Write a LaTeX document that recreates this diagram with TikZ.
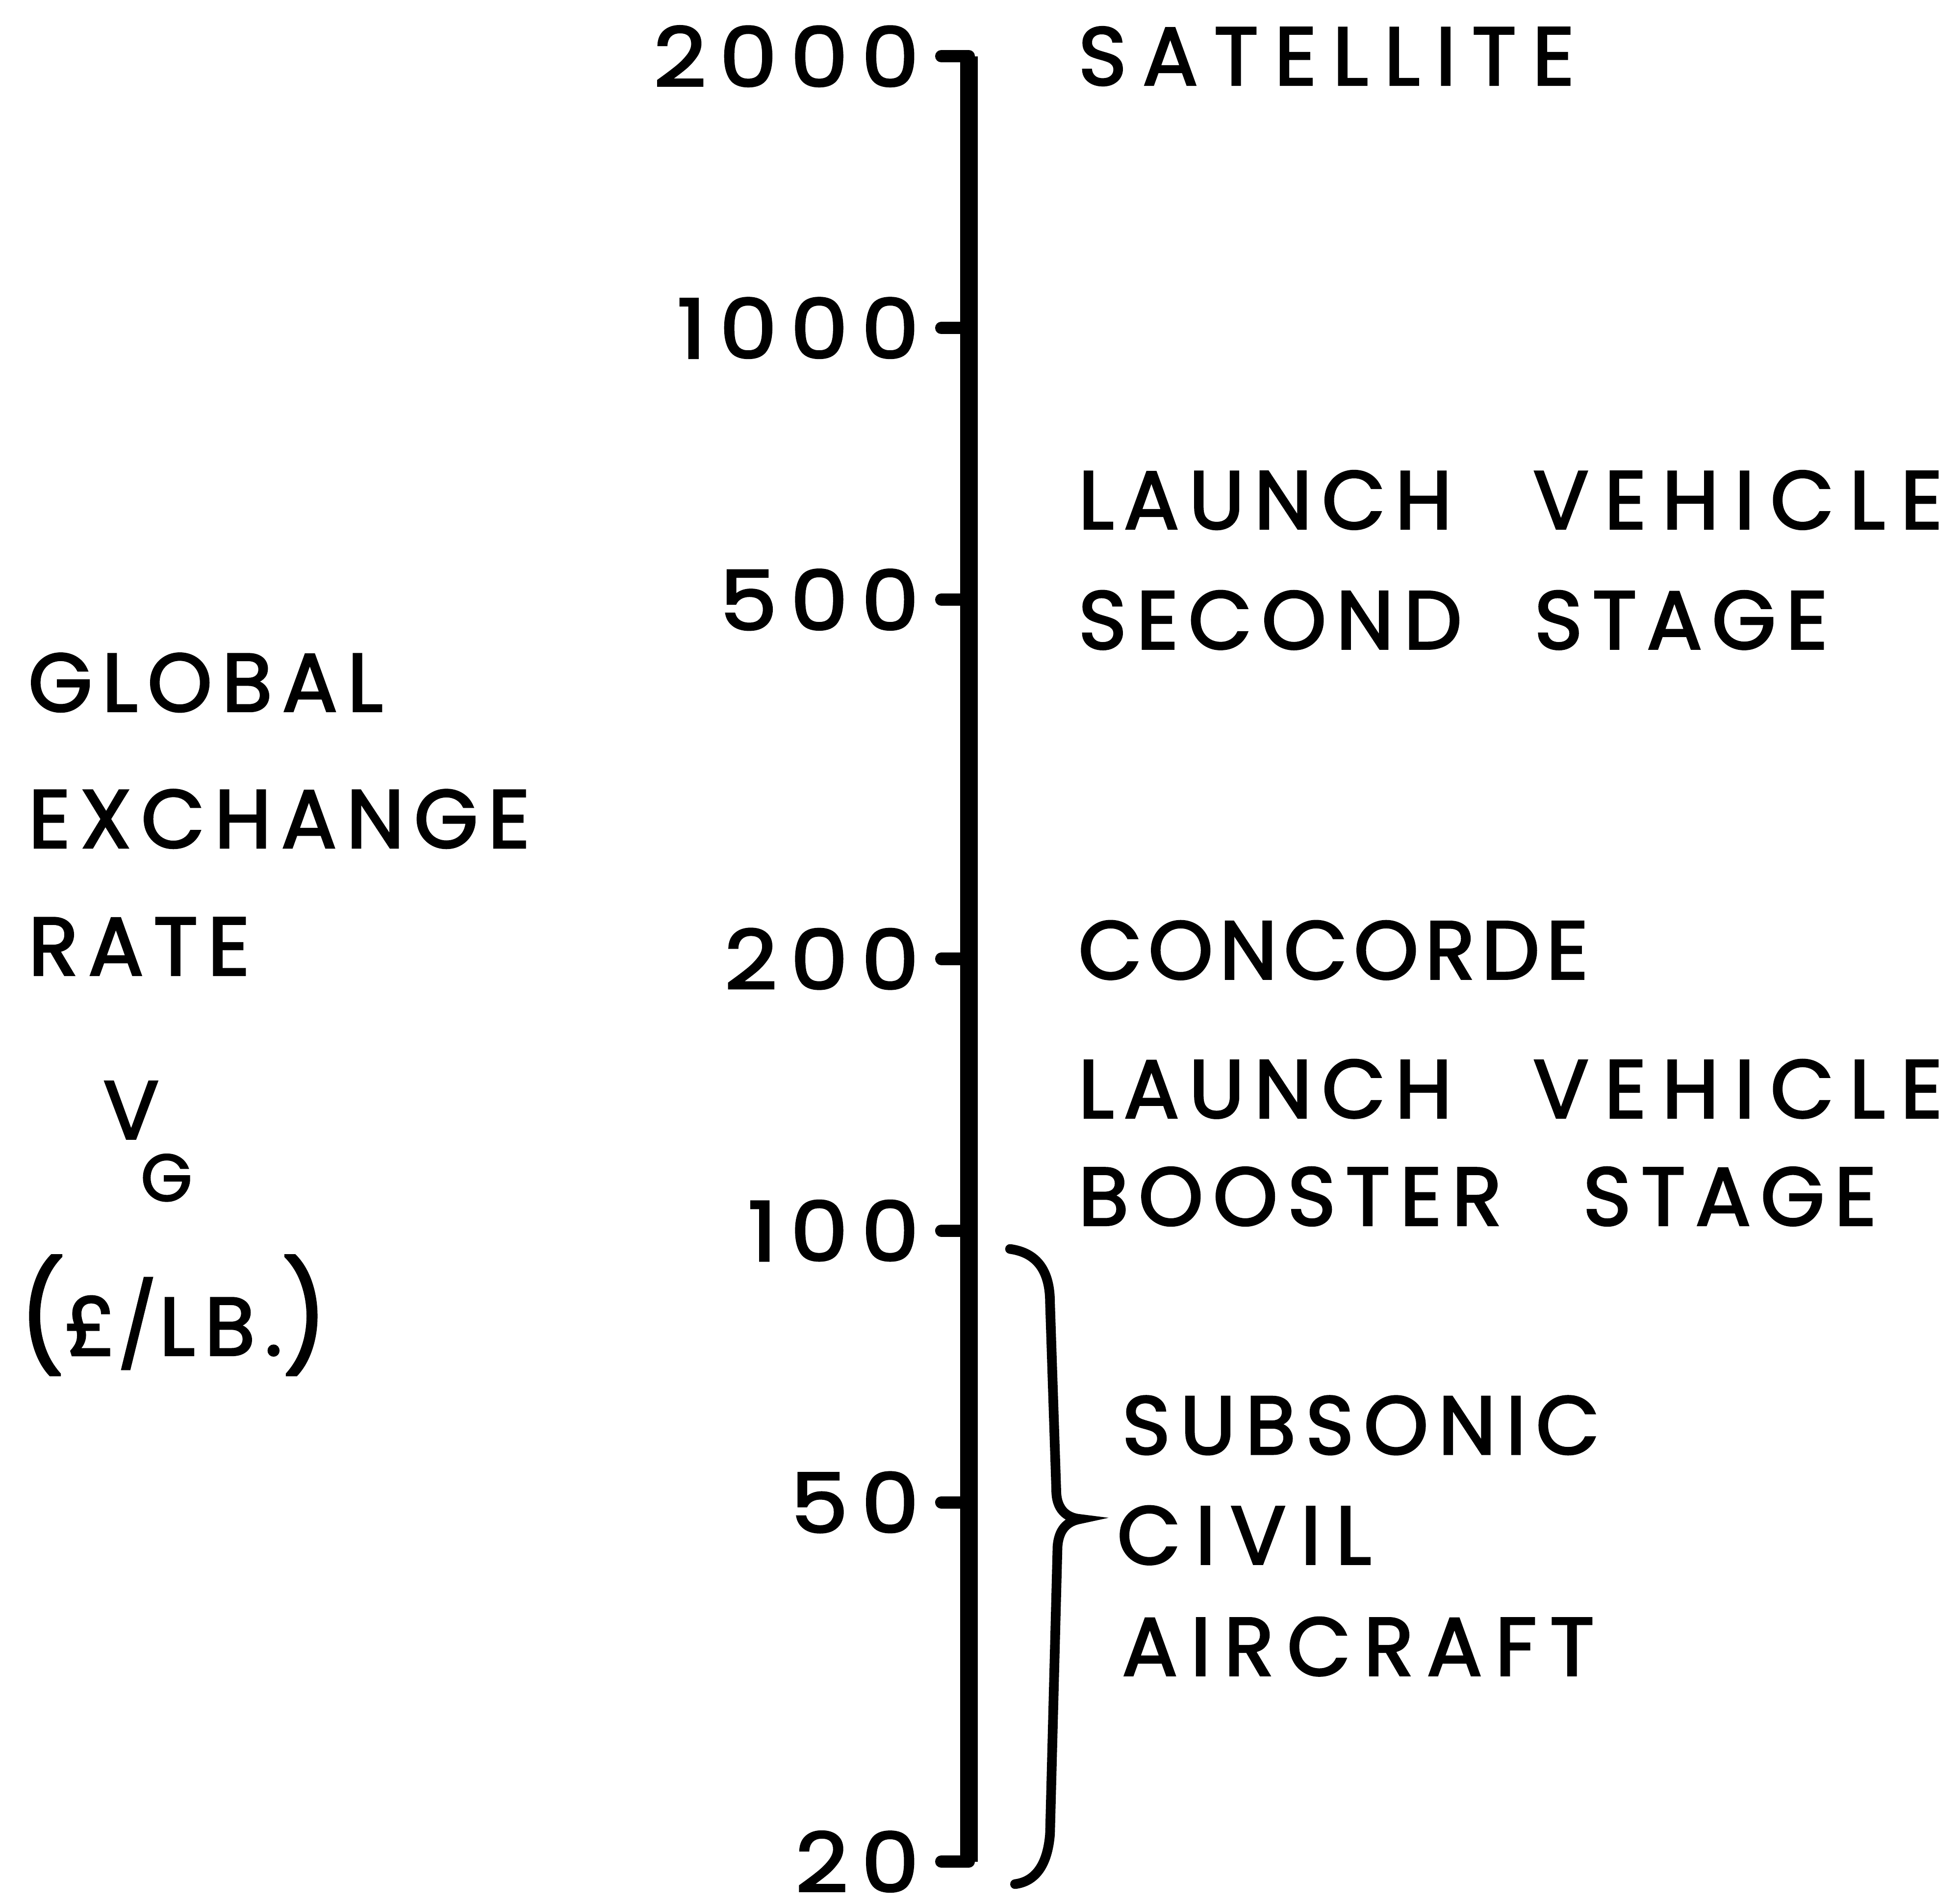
\documentclass[tikz,border=0pt]{standalone}
\usepackage{fontspec}
\usepackage{graphicx}
\setmainfont{Poppins}
\newfontfamily\letterfont[LetterSpace=12,FakeBold=2.4]{Poppins}
\newfontfamily\digitfont[LetterSpace=16,FakeBold=2.4,FakeStretch=1.12]{Poppins}
\usetikzlibrary{positioning}
\newcommand{\wgap}{\hspace{0.65cm}}
\newcommand{\spaced}[2]{{\addfontfeatures{LetterSpace=#1}#2}}

\tikzset{
  caption text/.style={anchor=west,inner sep=0pt,font=\letterfont\fontsize{18.7}{22}\selectfont},
  num/.style={anchor=east,inner sep=0pt,font=\digitfont\fontsize{18.7}{22}\selectfont},
  axis line/.style={line width=4pt},
  tick line/.style={line width=2.8pt,line cap=round},
  brace line/.style={line width=2.2pt,line cap=round}
}

\begin{document}
\begin{tikzpicture}
  \useasboundingbox (0,0) rectangle (15.68,15.22);
  % log scale
  \coordinate (top) at (7.75,14.77);
  \coordinate (bottom) at (7.75,0.33);
  \draw[axis line] (top) -- (bottom);
  \foreach \v in {2000,1000,500,200,100,50,20}{
    \pgfmathsetmacro{\ypos}{14.77-7.22*(log10(2000)-log10(\v))}
    \coordinate (t\v) at (7.53,\ypos);
    \draw[tick line] (t\v) -- (7.75,\ypos);
    \node[num] (n\v) at (7.36,\ypos) {\v};
  }
  % quantity
  \node[caption text] (global) at (0.22,9.76) {GLOBAL};
  \node[caption text] (exchange) at (0.22,8.67) {EXCHANGE};
  \node[caption text] (rate) at (0.22,7.65) {RATE};
  \node[caption text] (v) at (0.82,6.34) {V};
  \node[caption text,font=\letterfont\fontsize{15}{17}\selectfont] (g) at (1.12,5.80) {G};
  \node[caption text] (unit) at (0.15,4.70)
    {\scalebox{1.2}[1.3]{(}£\hspace{0.02cm}/\hspace{0.02cm}LB.\scalebox{1.2}[1.3]{)}};
  % vehicles
  \node[caption text] (sat) at (8.62,14.77) {\spaced{19.5}{SATELLITE}};
  \node[caption text] (lv1) at (8.62,11.22) {LAUNCH\wgap\spaced{19}{VEHICLE}};
  \node[caption text] (second) at (8.62,10.26) {SECOND\hspace{0.58cm}STAGE};
  \node[caption text] (concorde) at (8.62,7.62) {\spaced{8}{CONCORDE}};
  \node[caption text] (lv2) at (8.62,6.51) {LAUNCH\wgap\spaced{19}{VEHICLE}};
  \node[caption text] (booster) at (8.62,5.65) {BOOSTER\wgap STAGE};
  % subsonic range
  \coordinate (bt) at (8.08,5.23);
  \coordinate (btip) at (8.64,3.07);
  \coordinate (bb) at (8.12,0.15);
  \draw[brace line] (bt) .. controls (8.30,5.20) and (8.40,5.05) .. (8.40,4.80)
    -- (8.45,3.30) .. controls (8.45,3.15) and (8.53,3.08) .. (btip)
    .. controls (8.53,3.05) and (8.47,2.98) .. (8.46,2.85)
    -- (8.40,0.55) .. controls (8.38,0.30) and (8.28,0.17) .. (bb);
  \node[caption text] (subsonic) at (8.97,3.82) {SUBSONIC};
  \node[caption text] (civil) at (8.93,2.94) {\spaced{18}{CIVIL}};
  \node[caption text] (aircraft) at (8.97,2.05) {\spaced{16}{AIRCRAFT}};
\end{tikzpicture}
\end{document}
